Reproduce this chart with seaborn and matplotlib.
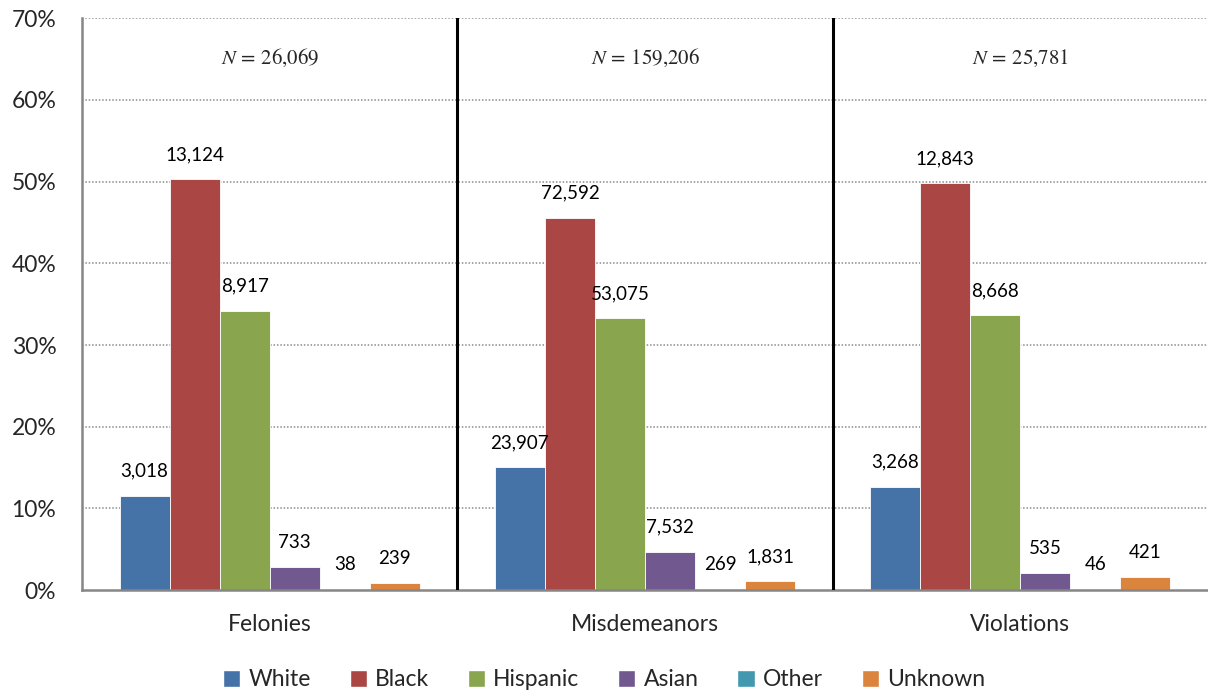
import matplotlib
matplotlib.use("Agg")
import matplotlib.pyplot as plt
from matplotlib.patches import Patch
import seaborn as sns
import pandas as pd

# Arrest counts by offense type and race
categories = ["Felonies", "Misdemeanors", "Violations"]
totals = [26069, 159206, 25781]
races = ["White", "Black", "Hispanic", "Asian", "Other", "Unknown"]
white = [3018, 23907, 3268]
black = [13124, 72592, 12843]
hispanic = [8917, 53075, 8668]
asian = [733, 7532, 535]
other = [38, 269, 46]
unknown = [239, 1831, 421]
y_ticks = [0, 10, 20, 30, 40, 50, 60, 70]

colors = ["#4572A7", "#AA4643", "#89A54E", "#71588F", "#4198AF", "#DB843D"]
series = [white, black, hispanic, asian, other, unknown]

rows = []
for race, counts in zip(races, series):
    for cat, n, total in zip(categories, counts, totals):
        rows.append({"category": cat, "race": race, "count": n,
                     "pct": n / total * 100})
df = pd.DataFrame(rows)

sns.set_theme(style="white")
plt.rcParams["font.family"] = ["Lato", "DejaVu Sans"]

fig = plt.figure(figsize=(12.08, 6.96), dpi=100)
ax = fig.add_axes([0.0679, 0.152, 0.932, 0.822])

sns.barplot(data=df, x="category", y="pct", hue="race", order=categories,
            hue_order=races, palette=colors, saturation=1, width=0.8,
            errorbar=None, legend=False, ax=ax, edgecolor="white",
            linewidth=0.6)

# Count labels above each bar
for race, container in zip(races, ax.containers):
    counts = df[df.race == race].set_index("category").loc[categories, "count"]
    for bar, n in zip(container, counts):
        ax.annotate(f"{n:,}", (bar.get_x() + bar.get_width() / 2, bar.get_height()),
                    xytext=(0, 17.5), textcoords="offset points",
                    ha="center", va="center", fontsize=13.5, color="black")

# Group totals
for i, total in enumerate(totals):
    num = f"{total:,}".replace(",", "{,}")
    ax.text(i, 65.1, f"$N\\,=\\,{num}$", ha="center", va="center",
            fontsize=15, math_fontfamily="stix")

ax.set_xlim(-0.5, 2.5)
ax.set_ylim(0, 70)
ax.set_yticks(y_ticks)
ax.set_yticklabels([f"{t}%" for t in y_ticks], fontsize=16.5)
ax.set_xticks(range(len(categories)))
ax.set_xticklabels(categories, fontsize=16.5)
ax.set_xlabel("")
ax.set_ylabel("")

for t in y_ticks[1:]:
    ax.axhline(t, color="#8c8c8c", lw=1.1, ls=(0, (1, 1.2)), zorder=0)

for xb in [0.5, 1.5]:
    ax.axvline(xb, color="black", lw=2.2, zorder=3)

ax.set_xticks([-0.5, 0.5, 1.5, 2.5], minor=True)
ax.tick_params(axis="x", which="major", length=0, pad=17)
ax.tick_params(axis="x", which="minor", length=5, width=1.5,
               color="#868686", direction="out")
ax.tick_params(axis="y", length=4.5, width=1.5, color="#868686",
               direction="out", pad=14)

for side in ["top", "right"]:
    ax.spines[side].set_visible(False)
for side in ["left", "bottom"]:
    ax.spines[side].set_color("#868686")
    ax.spines[side].set_linewidth(1.8)

handles = [Patch(facecolor=c, label=r) for c, r in zip(colors, races)]
fig.legend(handles=handles, loc="center", bbox_to_anchor=(0.5, 1 - 680 / 696),
           ncol=6, frameon=False, fontsize=16.5, handlelength=0.75,
           handleheight=0.75, handletextpad=0.35, columnspacing=1.7)

fig.savefig("out.png", dpi=100)
